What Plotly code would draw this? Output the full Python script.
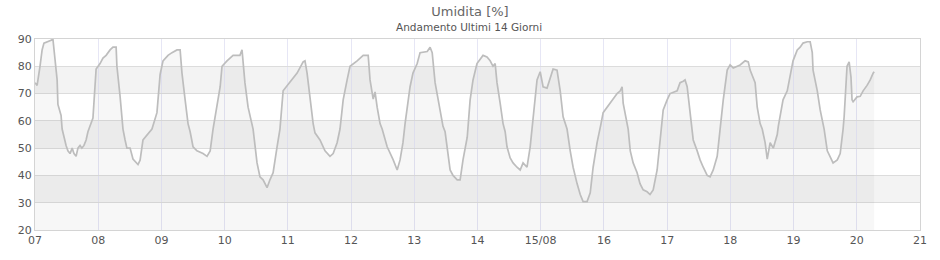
import plotly.graph_objects as go

# hours since 07/08 00:00
hours = [0.0, 0.8, 1.9, 2.7, 3.4, 4.9, 6.1, 6.8, 7.6, 8.4, 8.7, 9.9, 10.3, 11.0, 11.8, 12.5, 13.3, 14.1, 14.8, 15.6,
         16.3, 17.1, 17.8, 18.6, 19.4, 20.1, 20.9, 22.0, 23.2, 24.7, 25.8, 27.0, 28.5, 29.6, 30.8, 31.1, 32.3, 33.0,
         33.4, 34.2, 34.9, 36.1, 37.2, 39.1, 39.9, 41.0, 41.8, 43.7, 44.4, 46.3, 47.5, 48.6, 50.5, 52.0, 53.9, 55.1,
         55.8, 57.0, 58.1, 58.9, 60.0, 61.5, 63.8, 65.3, 66.5, 67.6, 69.1, 70.3, 71.0, 72.9, 75.2, 77.8, 78.6, 79.7,
         80.9, 82.4, 82.8, 84.3, 85.4, 86.6, 88.1, 89.2, 90.4, 91.9, 93.0, 94.2, 96.8, 99.5, 101.8, 102.5, 103.3,
         104.4, 105.6, 106.3, 108.2, 110.1, 112.0, 113.2, 114.7, 115.8, 117.0, 118.5, 119.6, 122.3, 124.6, 126.5,
         127.2, 128.4, 129.1, 129.9, 131.0, 131.8, 133.7, 136.0, 137.5, 138.6, 139.7, 140.5, 141.3, 142.4, 143.5,
         145.1, 146.2, 148.9, 150.0, 150.8, 151.9, 153.8, 154.9, 155.7, 156.5, 157.6, 158.7, 160.3, 161.4, 162.5,
         164.1, 164.4, 165.2, 166.3, 167.8, 170.1, 171.6, 172.8, 173.9, 174.7, 175.4, 176.6, 177.7, 178.5, 179.2,
         180.4, 181.5, 183.0, 184.2, 185.3, 186.8, 188.0, 188.7, 189.1, 190.6, 191.8, 192.9, 194.4, 195.6, 196.7,
         198.2, 199.4, 200.5, 202.0, 203.2, 204.3, 205.8, 207.0, 208.1, 209.6, 210.8, 211.9, 213.4, 214.6, 214.9,
         215.7, 217.2, 219.5, 221.0, 222.2, 222.9, 223.3, 224.8, 225.2, 226.0, 227.1, 228.6, 229.7, 230.9, 232.4,
         233.5, 234.7, 236.2, 237.3, 237.7, 238.5, 240.0, 241.1, 243.8, 244.9, 246.1, 246.8, 247.6, 248.7, 249.5,
         249.9, 251.4, 252.5, 253.7, 255.2, 256.3, 257.5, 259.0, 260.1, 260.5, 261.3, 262.8, 263.9, 265.1, 266.6,
         267.7, 269.6, 270.8, 271.5, 272.7, 273.4, 274.2, 275.3, 276.1, 277.2, 278.0, 279.1, 280.3, 281.8, 282.2,
         282.9, 284.0, 285.6, 286.7, 287.8, 289.4, 290.5, 291.6, 293.2, 294.3, 295.1, 295.4, 297.0, 298.1, 299.3,
         299.6, 300.8, 301.9, 303.0, 304.6, 305.7, 306.8, 307.2, 308.3, 309.1, 309.8, 310.2, 310.6, 312.1, 313.3,
         314.4, 315.9, 317.1, 318.2, 318.6]

humidity = [74, 73, 80, 86, 88.5, 89, 89.5, 90, 83, 75, 66, 62, 57, 54, 51, 49, 48, 50, 48, 47,
            50, 51, 50, 51, 53, 56, 58, 61, 79, 81, 83, 84, 86, 87, 87, 80, 69, 61.5,
            57, 53, 50, 50, 46, 44, 45.6, 53, 54, 56, 57, 63, 77, 82, 84, 85, 86, 86,
            77.5, 67.7, 59, 56, 50.5, 49, 48, 47, 49, 57, 65, 72.5, 80, 82, 84, 84, 86, 74,
            65, 58, 57, 44.6, 39.5, 38.4, 35.5, 38.4, 41, 50.5, 57, 71, 74, 77.5, 81.6, 82, 77.5,
            67.7, 59, 55.6, 53, 49, 47, 48, 52, 57, 67.7, 75, 80, 82, 84, 84,
            75, 68, 70.6, 65, 59, 57, 50.5, 45.7, 42, 45.7, 52, 59, 64, 72.5, 77.5,
            81, 85, 85.4, 87, 85, 74, 64, 58, 56, 50.5, 42, 40, 38.4, 38.4, 45.7,
            54, 58, 67.7, 75, 81, 84, 83.4, 82, 80, 81, 74, 66.5, 59, 56, 50.5,
            46.4, 44.6, 43, 42, 44.6, 43, 50.5, 57, 63, 75, 78, 72.5, 72, 76, 79,
            78.6, 71, 61.5, 57, 49, 43, 37, 33, 30.4, 30.4, 33.6, 43, 52, 57, 59,
            63, 65, 67.7, 70, 71, 72.5, 66.5, 58, 57, 49, 44.6, 41, 37, 34.7, 34,
            33, 34.7, 42, 53, 58, 64, 67.7, 70, 71, 74, 74.5, 75, 72.5, 64, 58,
            53, 49, 45.7, 43, 40, 39.5, 42, 47, 57, 61.5, 67.7, 78.6, 80.5, 79.4, 80,
            80.5, 82, 81.6, 78.6, 76, 74, 65, 59, 57, 52, 46, 52, 50, 55, 58,
            61.5, 67.7, 71, 76, 82, 86, 87, 88.5, 89, 89, 85, 78.6, 71, 64, 58,
            57, 49, 47, 44.6, 45.7, 48, 57, 61.5, 80, 81.6, 76, 67.7, 67, 68.8, 69,
            71, 73, 75, 77.5, 78]

tick_hours = [0, 24, 48, 72, 96, 120, 144, 168, 192, 216, 240, 264, 288, 312, 336]
tick_labels = ["07", "08", "09", "10", "11", "12", "13", "14", "15/08", "16", "17", "18", "19", "20", "21"]
y_ticks = [20, 30, 40, 50, 60, 70, 80, 90]
band_ranges = [(30, 40), (50, 60), (70, 80)]

FONT = "DejaVu Sans"

fig = go.Figure()
fig.add_trace(go.Scatter(
    x=hours, y=humidity, mode="lines",
    line=dict(color="#bdbdbd", width=1.7),
    fill="tozeroy", fillcolor="rgba(0,0,0,0.03)",
    hoverinfo="skip", showlegend=False,
))

shapes = []
for lo, hi in band_ranges:
    shapes.append(dict(type="rect", xref="paper", x0=0, x1=1, yref="y", y0=lo, y1=hi,
                       fillcolor="#f3f3f3", line=dict(width=0), layer="below"))

fig.update_layout(
    width=940, height=260,
    margin=dict(l=35, r=20, t=39, b=30),
    paper_bgcolor="white", plot_bgcolor="white",
    font=dict(family=FONT, size=11, color="#555555"),
    shapes=shapes,
    title=dict(text="Umidita [%]", x=0.5, xanchor="center",
               y=1 - 11 / 260, yanchor="middle",
               font=dict(family=FONT, size=13, color="#666666")),
    annotations=[dict(text="Andamento Ultimi 14 Giorni", xref="paper", yref="paper",
                      x=(469 - 35) / 885, y=(191 + 12) / 191, xanchor="center", yanchor="middle",
                      showarrow=False, font=dict(family=FONT, size=10.5, color="#555555"))],
)
fig.update_xaxes(range=[0, 336], tickvals=tick_hours, ticktext=tick_labels,
                 showgrid=True, gridcolor="#e6e6f5", gridwidth=1,
                 showline=True, linecolor="#d4d4d4", linewidth=1, mirror=True,
                 zeroline=False, ticks="", tickfont=dict(size=11, color="#555555"))
fig.update_yaxes(range=[20, 90], tickvals=y_ticks,
                 showgrid=True, gridcolor="#dcdcdc", gridwidth=1,
                 showline=True, linecolor="#d4d4d4", linewidth=1, mirror=True,
                 zeroline=False, ticks="", tickfont=dict(size=11, color="#555555"))

fig.write_html("out.html")
